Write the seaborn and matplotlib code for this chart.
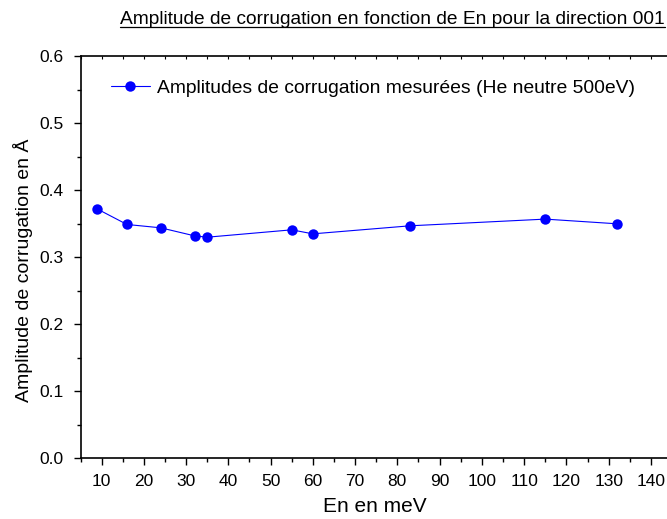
import numpy as np
import matplotlib.pyplot as plt
import seaborn as sns
from matplotlib.lines import Line2D

# Data
energie = [9, 16, 24, 32, 35, 55, 60, 83, 115, 132]
amplitude = [0.372, 0.349, 0.344, 0.332, 0.330, 0.341, 0.335, 0.347, 0.357, 0.350]
serie = "Amplitudes de corrugation mesurées (He neutre 500eV)"

sns.set_style("ticks")
plt.rcParams['font.family'] = ['Liberation Sans', 'DejaVu Sans']
plt.rcParams['text.color'] = 'black'
plt.rcParams['axes.labelcolor'] = 'black'

fig = plt.figure(figsize=(6.67, 5.19), dpi=100)
ax = fig.add_axes([80.5 / 667, 60.7 / 519, (672 - 80.5) / 667, (458.3 - 56.3) / 519])

sns.lineplot(x=energie, y=amplitude, ax=ax, color='blue', marker='o',
             markersize=7.5, markeredgewidth=0, linewidth=0.8, label=serie)

ax.set_xlim(5, 145)
ax.set_ylim(0, 0.6)
ax.set_xticks(np.arange(10, 141, 10))
ax.set_xticks(np.arange(5, 145, 5), minor=True)
ax.set_yticks(np.arange(0, 0.61, 0.1))
ax.set_yticks(np.arange(0.05, 0.6, 0.1), minor=True)
ax.set_yticklabels(['0.0', '0.1', '0.2', '0.3', '0.4', '0.5', '0.6'])

for s in ax.spines.values():
    s.set_linewidth(1.2)
    s.set_color('black')
ax.tick_params(which='major', length=5, width=1, labelsize=12.5, colors='black')
ax.tick_params(which='minor', length=3, width=1, colors='black')
ax.tick_params(axis='x', which='major', pad=6)
ax.tick_params(axis='y', which='major', pad=7)

# small inward ticks on the top edge
top = ax.secondary_xaxis('top')
top.set_xticks(np.arange(5, 145, 5))
top.tick_params(direction='in', length=2, width=0.8, labeltop=False, colors='black')
top.spines['top'].set_visible(False)

ax.set_xlabel('En en meV', fontsize=15)
ax.xaxis.set_label_coords(0.498, -0.096)
ax.set_ylabel('Amplitude de corrugation en Å', fontsize=14)
ax.yaxis.set_label_coords(-0.080, 0.468)

ax.legend(loc='center left', bbox_to_anchor=(0.0516, 0.921), frameon=False,
          fontsize=13.9, handlelength=2.0, handletextpad=0.36, borderaxespad=0,
          borderpad=0)

t = fig.text(0.997, 0.954, 'Amplitude de corrugation en fonction de En pour la direction 001',
             ha='right', va='baseline', fontsize=13.8)
fig.canvas.draw()
bb = t.get_window_extent().transformed(fig.transFigure.inverted())
fig.add_artist(Line2D([bb.x0, bb.x1], [0.948, 0.948], color='black', linewidth=0.9,
                      transform=fig.transFigure))

fig.savefig('out.png', dpi=100)
